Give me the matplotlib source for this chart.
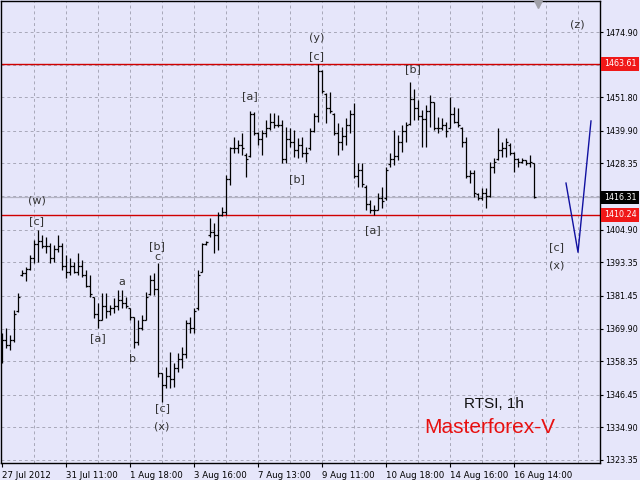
import matplotlib
matplotlib.use('Agg')
import matplotlib.pyplot as plt

# ---- data (hourly OHLC, RTSI) ----
opens = [1362, 1366, 1364, 1366, 1376, 1389, 1389.5, 1391, 1395, 1400,
         1401, 1399, 1399, 1395, 1398, 1399, 1392, 1390, 1392, 1390,
         1392, 1389, 1385, 1381, 1375, 1373, 1378, 1376, 1377, 1378,
         1380, 1379, 1377, 1374, 1365, 1370, 1373, 1382, 1387, 1384,
         1354, 1350, 1353, 1352, 1356, 1359, 1361, 1372, 1370, 1377,
         1390, 1400, 1403, 1404, 1403, 1410, 1411, 1423, 1434, 1434,
         1435, 1431.5, 1431, 1446, 1439, 1437, 1439, 1441, 1443, 1442,
         1442, 1430, 1437, 1436, 1433, 1435, 1432, 1434, 1440, 1445,
         1461, 1453, 1448, 1446, 1439, 1436, 1438, 1442, 1446, 1424,
         1426, 1420, 1414, 1412, 1412, 1416, 1416, 1428, 1430, 1431,
         1436, 1440, 1442.5, 1451, 1448, 1445, 1444, 1447, 1450, 1441,
         1441, 1442, 1441, 1446, 1443, 1441, 1436, 1424, 1425, 1417.5,
         1416, 1418, 1417, 1427, 1430, 1433, 1434, 1435, 1432, 1430,
         1429, 1429.5, 1428.5, 1428.5]
highs = [1368.3, 1370.1, 1367.6, 1376.5, 1382.5, 1390.6, 1391.7, 1395.9, 1401.3, 1404.8,
         1403.0, 1402.3, 1400.2, 1399.5, 1403.0, 1400.2, 1395.9, 1394.9, 1393.5, 1396.6,
         1394.2, 1390.6, 1388.9, 1381.1, 1378.9, 1382.5, 1382.5, 1378.2, 1380.7, 1383.5,
         1383.5, 1381.1, 1377.2, 1374.0, 1372.9, 1374.7, 1382.8, 1388.9, 1389.6, 1393.1,
         1354.2, 1356.3, 1361.6, 1357.7, 1361.2, 1363.4, 1372.9, 1374.0, 1377.2, 1390.6,
         1400.2, 1400.9, 1409.0, 1407.3, 1411.2, 1412.9, 1424.3, 1434.2, 1437.7, 1436.7,
         1439.1, 1432.1, 1446.9, 1446.6, 1439.5, 1440.2, 1443.7, 1446.2, 1446.2, 1445.5,
         1443.7, 1441.3, 1440.9, 1440.2, 1437.4, 1437.7, 1434.2, 1440.9, 1446.2, 1463.4,
         1461.4, 1453.3, 1453.7, 1446.2, 1442.7, 1441.3, 1444.5, 1447.3, 1449.8, 1428.5,
         1428.5, 1420.7, 1415.4, 1413.6, 1417.9, 1420.0, 1427.1, 1432.1, 1440.2, 1438.4,
         1442.0, 1443.0, 1457.2, 1454.7, 1450.8, 1447.3, 1449.1, 1452.6, 1450.1, 1444.8,
         1444.5, 1443.0, 1451.9, 1448.3, 1448.0, 1441.3, 1437.7, 1426.0, 1426.0, 1417.9,
         1419.7, 1419.7, 1428.9, 1430.3, 1440.9, 1436.0, 1437.4, 1435.6, 1432.4, 1430.3,
         1430.3, 1429.6, 1431.3, 1428.5]
lows = [1357.7, 1363.0, 1362.3, 1365.1, 1375.8, 1388.5, 1386.7, 1390.6, 1393.1, 1393.5,
        1398.4, 1396.6, 1393.1, 1393.5, 1397.0, 1390.6, 1387.8, 1388.9, 1389.6, 1388.9,
        1388.1, 1384.6, 1381.1, 1373.6, 1370.1, 1372.9, 1373.6, 1374.7, 1375.4, 1376.5,
        1377.2, 1377.2, 1372.9, 1363.0, 1364.1, 1369.4, 1372.9, 1381.8, 1381.8, 1352.7,
        1343.9, 1348.8, 1348.8, 1349.2, 1354.5, 1355.9, 1359.5, 1368.3, 1368.3, 1376.5,
        1389.9, 1399.5, 1402.3, 1396.6, 1397.7, 1409.7, 1410.1, 1420.7, 1432.1, 1432.1,
        1431.3, 1423.6, 1430.6, 1438.4, 1434.9, 1431.3, 1437.7, 1440.2, 1440.9, 1441.3,
        1428.5, 1428.5, 1434.2, 1430.6, 1430.3, 1430.6, 1428.9, 1433.1, 1439.5, 1443.0,
        1453.3, 1442.7, 1446.2, 1438.4, 1431.3, 1433.1, 1434.9, 1439.1, 1423.2, 1420.0,
        1420.0, 1411.9, 1410.8, 1410.1, 1411.9, 1412.6, 1415.4, 1427.1, 1427.8, 1429.6,
        1432.4, 1436.0, 1442.0, 1443.7, 1443.7, 1434.2, 1434.2, 1441.3, 1440.2, 1439.1,
        1440.2, 1437.7, 1440.9, 1442.7, 1441.3, 1434.2, 1423.2, 1421.4, 1416.5, 1415.4,
        1415.4, 1412.6, 1416.5, 1425.0, 1429.6, 1430.6, 1430.6, 1431.3, 1425.3, 1427.1,
        1428.5, 1427.8, 1427.1, 1416.0]
closes = [1366, 1364, 1366, 1375, 1381, 1389.5, 1391, 1395, 1400, 1401,
          1399, 1399, 1395, 1398, 1399, 1392, 1390, 1392, 1390, 1392,
          1389, 1385, 1382, 1375, 1373, 1378, 1376, 1377, 1378, 1380,
          1379, 1378, 1374, 1365, 1370, 1373, 1381, 1387, 1384, 1354,
          1350, 1353, 1352, 1356, 1359, 1361, 1372, 1370, 1376, 1389,
          1400, 1400.5, 1404, 1403, 1410, 1411, 1423, 1434, 1434, 1435,
          1434, 1430, 1446, 1439, 1437, 1439, 1441, 1443, 1442, 1442,
          1430, 1437, 1436, 1433, 1435, 1432, 1432, 1440, 1445, 1461,
          1454, 1448, 1447, 1439, 1436, 1438, 1442, 1446, 1424, 1426,
          1421, 1414, 1412, 1412, 1416, 1415, 1426, 1430, 1431, 1436,
          1440, 1442, 1451, 1448, 1445, 1444, 1447, 1450, 1441, 1441,
          1442, 1440, 1446, 1443, 1442, 1436, 1424, 1425, 1418, 1416,
          1418, 1417, 1427, 1429, 1433, 1434, 1436, 1432, 1430, 1429,
          1429.5, 1428.5, 1429, 1416.31]

x_label_pos = [0, 16, 32, 48, 64, 80, 96, 112, 128]
x_labels = ['27 Jul 2012', '31 Jul 11:00', '1 Aug 18:00', '3 Aug 16:00', '7 Aug 13:00',
            '9 Aug 11:00', '10 Aug 18:00', '14 Aug 16:00', '16 Aug 14:00']
price_ticks = [1474.90, 1451.80, 1439.90, 1428.35, 1404.90, 1393.35, 1381.45,
               1369.90, 1358.35, 1346.45, 1334.90, 1323.35]
hidden_grid = [1463.35, 1416.80]
level_high = 1463.61
level_low = 1410.24
last_price = 1416.31
proj_x = [141, 144, 147.25]
proj_y = [1421.4, 1396.9, 1443.4]
wave_text = ['(w)', '[c]', '[a]', 'a', 'b', '[b]', 'c', '[c]', '(x)', '[a]', '[b]',
             '(y)', '[c]', '[a]', '[b]', '[c]', '(x)', '(z)']
wave_x = [8.75, 8.75, 23.9, 30.0, 32.75, 38.75, 38.75, 40.0, 40.0, 62.0, 73.75,
          78.75, 78.75, 92.75, 102.75, 138.75, 138.75, 143.75]
wave_y = [1415.2, 1408.1, 1366.5, 1386.3, 1359.1, 1399.1, 1395.2, 1341.8, 1335.3, 1452.2,
          1422.9, 1472.8, 1466.4, 1404.8, 1461.8, 1398.8, 1392.1, 1477.4]

BG = '#e6e6fa'
fig = plt.figure(figsize=(6.4, 4.8), dpi=100, facecolor=BG)
ax = fig.add_axes([1/640, 17/480, 599/640, 462/480], facecolor=BG)
ax.set_xlim(-0.25, 149.5)
ax.set_ylim(1322.28, 1485.88)

# grid
for p in price_ticks + hidden_grid:
    ax.axhline(p, color='#a8a8b8', lw=0.7, ls=(0, (3, 3)), zorder=0)
for gx in range(8, 150, 8):
    ax.axvline(gx, color='#a8a8b8', lw=0.7, ls=(0, (3, 3)), zorder=0)

# bid line
ax.axhline(last_price, color='#b4b4c4', lw=0.9, zorder=1)
# levels
ax.axhline(level_high, color='#d00000', lw=1.0, zorder=2)
ax.axhline(level_low, color='#d00000', lw=1.0, zorder=2)

# OHLC bars
xs = list(range(len(highs)))
ax.vlines(xs, lows, highs, color='black', lw=0.9, zorder=3)
ax.hlines(opens, [x - 0.4 for x in xs], xs, color='black', lw=0.9, zorder=3)
ax.hlines(closes, xs, [x + 0.4 for x in xs], color='black', lw=0.9, zorder=3)

# projection
ax.plot(proj_x, proj_y, color='#1010a0', lw=1.0, zorder=3)

# wave labels
for t, x, y in zip(wave_text, wave_x, wave_y):
    ax.text(x, y, t, ha='center', va='center', fontsize=8, color='#333333',
            family='DejaVu Sans')

ax.text(123.0, 1343.1, 'RTSI, 1h', ha='center', va='center', fontsize=11,
        color='#111111', family='Liberation Sans')
ax.text(122.0, 1334.7, 'Masterforex-V', ha='center', va='center', fontsize=15,
        color='#e81010', family='Liberation Sans')

# chart shift marker
ax.plot([134], [1484.9], marker='v', color='#a0a0a8', markersize=6, clip_on=False, zorder=4)

# axes styling
for s in ax.spines.values():
    s.set_color('black')
    s.set_linewidth(1.0)
ax.yaxis.tick_right()
ax.set_yticks(price_ticks)
ax.set_yticklabels(['%.2f' % p for p in price_ticks])
ax.tick_params(axis='y', direction='out', length=2.5, width=0.8, pad=1,
               labelsize=5.8, colors='black')
ax.set_xticks(x_label_pos)
ax.set_xticklabels(x_labels, ha='left')
ax.tick_params(axis='x', direction='out', length=3, width=0.8, pad=3,
               labelsize=6.2, colors='black')
for lab in ax.get_xticklabels() + ax.get_yticklabels():
    lab.set_family('DejaVu Sans')

# price boxes
for p, c in [(level_high, '#f01818'), (last_price, 'black'), (level_low, '#f01818')]:
    ax.text(1.0065, p, '%.2f' % p, transform=ax.get_yaxis_transform(), ha='left', va='center',
            fontsize=5.8, color='white', family='DejaVu Sans', clip_on=False,
            bbox=dict(boxstyle='square,pad=0.3', fc=c, ec='none'))

fig.savefig('out.png', dpi=100, facecolor=BG)
